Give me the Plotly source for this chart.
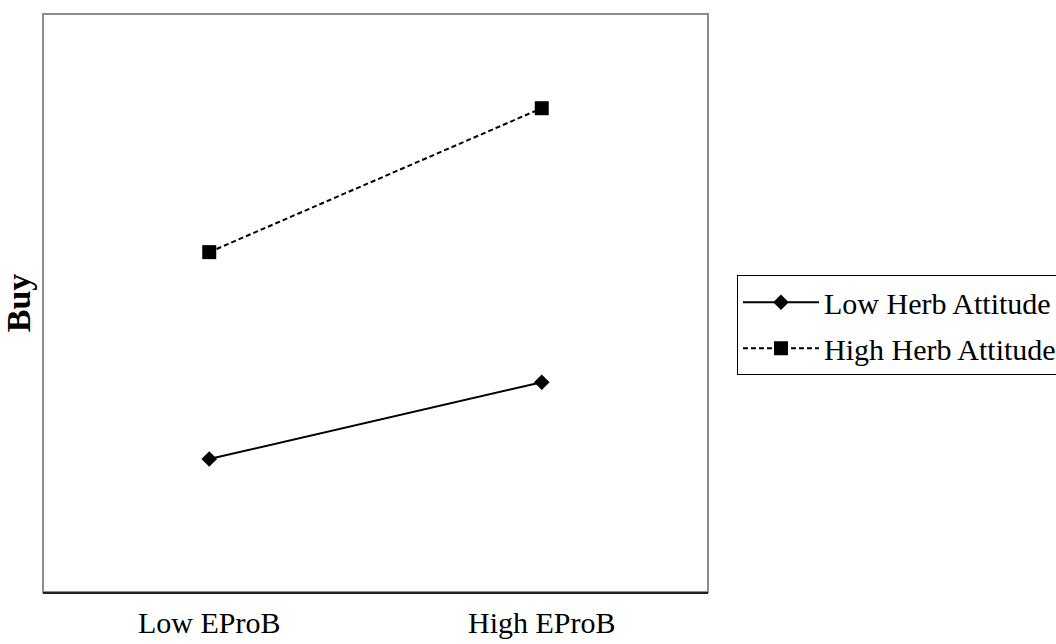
import plotly.graph_objects as go

# Interaction plot: purchase intention by EProB level and herb attitude
categories = ["Low EProB", "High EProB"]
low_herb = [0.230, 0.363]
high_herb = [0.588, 0.837]
series_names = ["Low Herb Attitude", "High Herb Attitude"]
y_title = "Buy"

FONT = "Liberation Serif, Times New Roman, serif"

fig = go.Figure()
fig.add_trace(go.Scatter(
    x=categories, y=low_herb, name=series_names[0], mode="lines+markers",
    legendgroup="low",
    line=dict(color="black", width=2),
    marker=dict(symbol="diamond", size=12, color="black"),
))
fig.add_trace(go.Scatter(
    x=categories, y=high_herb, name=series_names[1], mode="lines+markers",
    legendgroup="high",
    line=dict(color="black", width=2, dash="5px,3px"),
    marker=dict(symbol="square", size=14, color="black"),
))

# grey frame around the plotting area
fig.add_shape(type="rect", xref="paper", yref="paper", x0=0, y0=0, x1=1, y1=1,
              line=dict(color="#8c8c8c", width=2), layer="below")

fig.update_layout(
    width=1056, height=644,
    margin=dict(l=43, r=348, t=14, b=52, autoexpand=False),
    paper_bgcolor="white", plot_bgcolor="white",
    font=dict(family=FONT, size=30, color="black"),
    showlegend=True,
    legend=dict(
        x=1.0436, y=0.548, xanchor="left", yanchor="top",
        bordercolor="black", borderwidth=1, bgcolor="white",
        font=dict(family=FONT, size=30, color="black"),
        itemwidth=76, tracegroupgap=4,
    ),
    xaxis=dict(
        type="category", range=[-0.5, 1.5], automargin=False,
        showgrid=False, zeroline=False,
        showline=True, linecolor="#222222", linewidth=2,
        ticks="", ticklabelstandoff=3,
        tickfont=dict(family=FONT, size=30, color="black"),
    ),
    yaxis=dict(
        range=[0, 1], showgrid=False, zeroline=False, automargin=False,
        showticklabels=False, ticks="", showline=False,
        title=dict(text="<b>" + y_title + "</b>", standoff=6,
                   font=dict(family=FONT, size=34, color="black")),
    ),
)

fig.write_html("out.html")
